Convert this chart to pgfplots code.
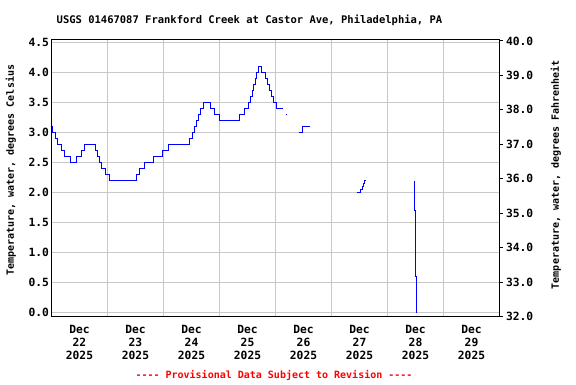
\documentclass[border=0pt]{standalone}
\usepackage{fontspec}
\usepackage{pgfplots}
\pgfplotsset{compat=1.18}
\setmonofont{DejaVu Sans Mono}
\newcommand{\tf}[1]{\ttfamily\bfseries\fontsize{#1}{13}\selectfont}
\definecolor{gridgray}{RGB}{200,200,200}
\definecolor{pblue}{RGB}{0,0,255}
\begin{document}
\begin{tikzpicture}
\path[use as bounding box] (0,0) rectangle (576pt,384pt);
\begin{axis}[
  at={(51.5pt,67.5pt)}, anchor=south west,
  scale only axis, width=448pt, height=277pt,
  xmin=0, xmax=192, ymin=-0.066667, ymax=4.55,
  axis line style={black, line width=1pt},
  xtick={12,36,60,84,108,132,156,180},
  xticklabels={Dec\\22\\2025,Dec\\23\\2025,Dec\\24\\2025,Dec\\25\\2025,Dec\\26\\2025,Dec\\27\\2025,Dec\\28\\2025,Dec\\29\\2025},
  minor xtick={24,48,72,96,120,144,168},
  xmajorgrids=false, xminorgrids=true, ymajorgrids=true,
  ytick={0,0.5,...,4.5},
  major tick length=0pt, minor tick length=0pt,
  grid style={gridgray, line width=1pt},
  minor grid style={gridgray, line width=1pt},
  /pgf/number format/assume math mode=true,
  yticklabel style={font=\tf{11.3}, xshift=1pt, /pgf/number format/.cd, fixed, fixed zerofill, precision=1},
  yticklabel={\pgfmathprintnumber{\tick}},
  ytick style={draw=none},
  xticklabel style={font=\tf{11.3}, align=center, yshift=-5pt},
  every axis y label/.style={at={(axis description cs:-0.0905,0.528)}, rotate=90, anchor=center},
  ylabel={\tf{10}Temperature, water, degrees Celsius},
]
\addplot[const plot, draw=pblue, line width=1pt] coordinates {
(0,3.1)(0.4286,3.0)(1.7143,2.9)(2.5714,2.8)(4.2857,2.7)(5.5714,2.6)(8.1429,2.5)(10.7143,2.6)(12.8571,2.7)(14.1429,2.8)(18.8571,2.7)(19.7143,2.6)(20.5714,2.5)(21.4286,2.4)(23.1429,2.3)(24.8571,2.2)(36.4286,2.3)(37.7143,2.4)(39.8571,2.5)(43.7143,2.6)(47.5714,2.7)(50.1429,2.8)(59.1429,2.9)(60.4286,3.0)(61.2857,3.1)(62.1429,3.2)(63.0,3.3)(63.8571,3.4)(65.1429,3.5)(68.1429,3.4)(69.8571,3.3)(72.0,3.2)(80.5714,3.3)(82.7143,3.4)(84.4286,3.5)(85.2857,3.6)(86.1429,3.7)(86.5714,3.8)(87.4286,3.9)(87.8571,4.0)(88.7143,4.1)(90.0,4.0)(91.7143,3.9)(92.5714,3.8)(93.4286,3.7)(94.2857,3.6)(95.1429,3.5)(96.4286,3.4)(99.0,3.4)
};
\addplot[const plot, draw=pblue, line width=1pt] coordinates {(100.2857,3.3)(100.7143,3.3)};
\addplot[const plot, draw=pblue, line width=1pt] coordinates {(105.8571,3.0)(107.5714,3.1)(110.5714,3.1)};
\addplot[const plot, draw=pblue, line width=1pt] coordinates {(130.7143,2.0)(132.4286,2.05)(133.2857,2.1)(133.7143,2.15)(134.1429,2.2)(134.5714,2.2)};
\addplot[const plot, draw=pblue, line width=1pt] coordinates {(155.5714,2.2)(155.5714,1.7)(156.0,0.6)(156.4286,0.0)};
\end{axis}
\begin{axis}[
  at={(51.5pt,67.5pt)}, anchor=south west,
  scale only axis, width=448pt, height=277pt,
  xmin=0, xmax=192, ymin=32, ymax=40.043,
  axis x line=none, axis y line*=right,
  axis line style={black, line width=1pt},
  ytick={32,33,...,40},
  tick align=outside, major tick length=3pt,
  ytick style={black, line width=1pt},
  /pgf/number format/assume math mode=true,
  yticklabel style={font=\tf{11.3}, /pgf/number format/.cd, fixed, fixed zerofill, precision=1},
  every axis y label/.style={at={(axis description cs:1.126,0.512)}, rotate=90, anchor=center},
  ylabel={\tf{10}Temperature, water, degrees Fahrenheit},
]
\end{axis}
\node[font=\tf{10.5}] at (249.5pt,364pt) {USGS 01467087 Frankford Creek at Castor Ave, Philadelphia, PA};
\node[font=\tf{10}, text=red] at (274pt,9pt) {---- Provisional Data Subject to Revision ----};
\end{tikzpicture}
\end{document}
